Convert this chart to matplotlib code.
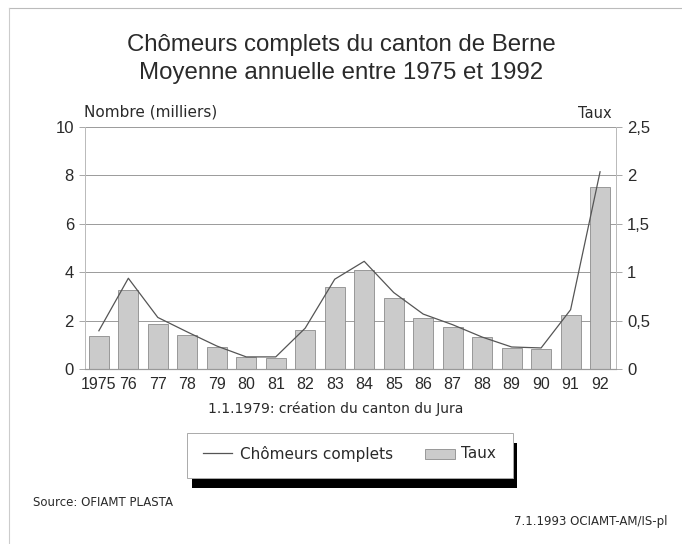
import matplotlib
matplotlib.use("Agg")
import matplotlib.pyplot as plt
from matplotlib.patches import Rectangle
from matplotlib.lines import Line2D

plt.rcParams['font.family'] = ['Liberation Sans', 'DejaVu Sans']

years = ['1975', '76', '77', '78', '79', '80', '81', '82', '83', '84',
         '85', '86', '87', '88', '89', '90', '91', '92']
chomeurs = [1.58, 3.75, 2.13, 1.53, 0.95, 0.50, 0.50, 1.69, 3.71, 4.45,
            3.16, 2.27, 1.83, 1.32, 0.91, 0.87, 2.45, 8.15]
taux = [0.34, 0.82, 0.46, 0.35, 0.23, 0.12, 0.11, 0.40, 0.85, 1.02,
        0.73, 0.53, 0.43, 0.33, 0.22, 0.21, 0.56, 1.88]
left_ticks = [0, 2, 4, 6, 8, 10]
right_ticks = [0, 0.5, 1, 1.5, 2, 2.5]
right_labels = ['0', '0,5', '1', '1,5', '2', '2,5']

TXT = '#2a2a2a'
WIDE = ['DejaVu Sans']
W, H = 682, 544
fig = plt.figure(figsize=(W / 100, H / 100), dpi=100)

# page border (scan)
fig.add_artist(Line2D([9 / W, 1.0], [1 - 8 / H, 1 - 8 / H], color='#bbbbbb', lw=0.8))
fig.add_artist(Line2D([9 / W, 9 / W], [0, 1 - 8 / H], color='#cccccc', lw=0.8))

fig.text(341 / W, 1 - 45 / H, 'Chômeurs complets du canton de Berne', ha='center', va='center',
         fontsize=17.3, color=TXT)
fig.text(341 / W, 1 - 73 / H, 'Moyenne annuelle entre 1975 et 1992', ha='center', va='center',
         fontsize=17.3, color=TXT)

x0, x1, ytop, ybot = 85, 616, 127, 369
ax2 = fig.add_axes([x0 / W, 1 - ybot / H, (x1 - x0) / W, (ybot - ytop) / H])
ax = ax2.twinx()
ax.yaxis.tick_left()
ax2.yaxis.tick_right()
ax.set_zorder(ax2.get_zorder() + 1)
ax.patch.set_visible(False)

xs = list(range(len(years)))
ax2.bar(xs, taux, width=0.68, color='#cbcbcb', edgecolor='#8c8c8c', linewidth=0.6, zorder=2)
ax2.set_ylim(0, 2.5)
ax2.set_yticks(right_ticks)
ax2.set_yticklabels(right_labels)
ax2.grid(axis='y', color='#9a9a9a', lw=0.7, zorder=0)
ax2.set_axisbelow(True)

ax.plot(xs, chomeurs, color='#555555', lw=0.9)
ax.set_ylim(0, 10)
ax.set_yticks(left_ticks)
ax.set_xlim(-0.47, 17.54)
ax2.set_xlim(-0.47, 17.54)
ax2.set_xticks(xs)
ax2.set_xticklabels(years)

for a in (ax, ax2):
    a.spines['top'].set_visible(False)
    a.spines['left'].set_color('#bbbbbb')
    a.spines['right'].set_color('#bbbbbb')
    a.spines['bottom'].set_color('#999999')
    a.spines['left'].set_linewidth(0.7)
    a.spines['right'].set_linewidth(0.7)
    a.tick_params(axis='y', labelsize=12, colors=TXT, length=4, width=0.6, color='#999999', pad=4)
ax2.tick_params(axis='x', length=0, labelsize=11.5, labelcolor=TXT, pad=6)
ax.tick_params(axis='x', bottom=False, labelbottom=False)

fig.text(84 / W, 1 - 112 / H, 'Nombre (milliers)', ha='left', va='center', fontsize=11,
         color=TXT, family=WIDE)
fig.text(612 / W, 1 - 113 / H, 'Taux', ha='right', va='center', fontsize=10.5, color=TXT, family=WIDE)
fig.text(208 / W, 1 - 409 / H, '1.1.1979: création du canton du Jura', ha='left', va='center',
         fontsize=10, color=TXT, family=WIDE)

# legend box with shadow
fig.add_artist(Rectangle((192 / W, 1 - 488 / H), 325 / W, 45 / H, transform=fig.transFigure,
                         facecolor='black', edgecolor='none'))
fig.add_artist(Rectangle((187 / W, 1 - 478 / H), 326 / W, 45 / H, transform=fig.transFigure,
                         facecolor='white', edgecolor='#aaaaaa', lw=0.7))
fig.add_artist(Line2D([203 / W, 232 / W], [1 - 453 / H, 1 - 453 / H], color='#555555', lw=0.9))
fig.text(240 / W, 1 - 454 / H, 'Chômeurs complets', ha='left', va='center', fontsize=11,
         color=TXT, family=WIDE)
fig.add_artist(Rectangle((425 / W, 1 - 459 / H), 30 / W, 10 / H, transform=fig.transFigure,
                         facecolor='#cbcbcb', edgecolor='#8c8c8c', lw=0.6))
fig.text(461 / W, 1 - 454 / H, 'Taux', ha='left', va='center', fontsize=11, color=TXT, family=WIDE)

fig.text(33 / W, 1 - 503 / H, 'Source: OFIAMT PLASTA', ha='left', va='center', fontsize=8.5,
         color=TXT, family=WIDE)
fig.text(668 / W, 1 - 521 / H, '7.1.1993 OCIAMT-AM/IS-pl', ha='right', va='center', fontsize=8.5,
         color=TXT, family=WIDE)

fig.savefig('out.png', dpi=100)
